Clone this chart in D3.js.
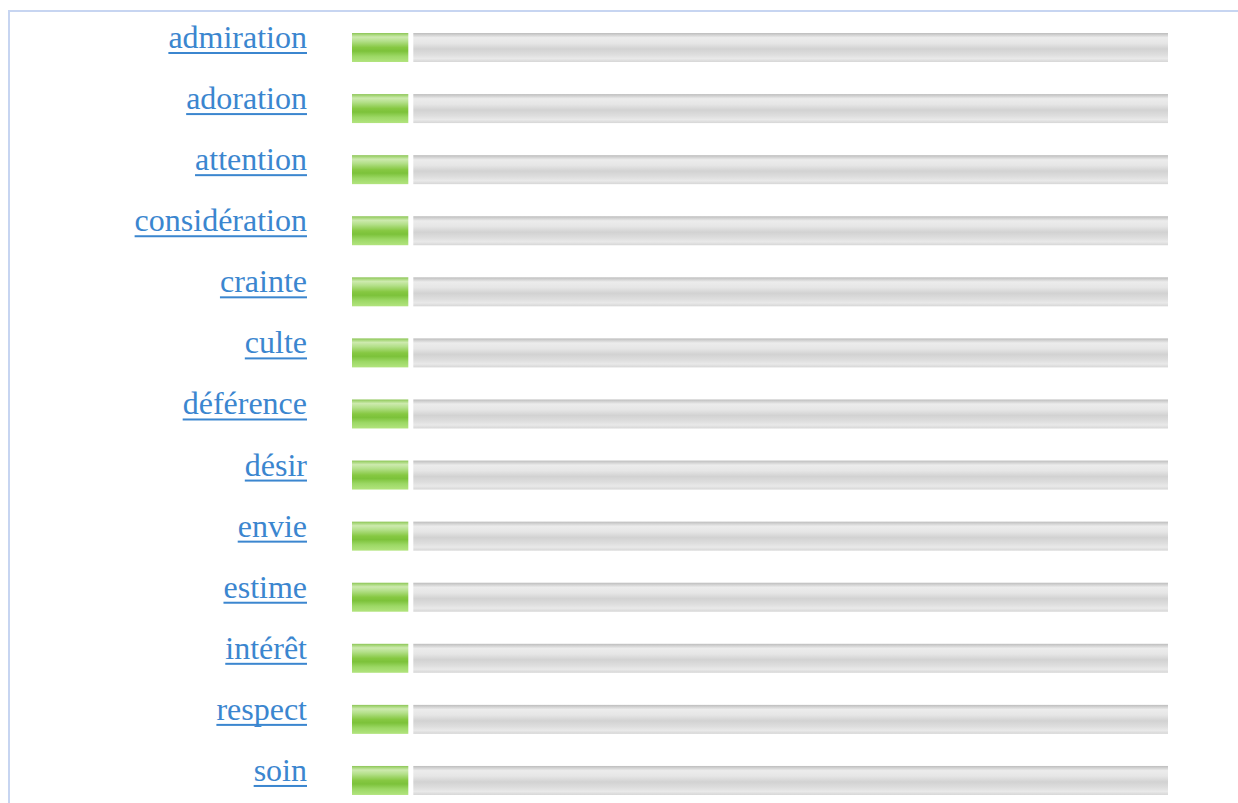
<!DOCTYPE html>
<html><head><meta charset="utf-8">
<script src="https://cdn.jsdelivr.net/npm/d3@7"></script>
<style>html,body{margin:0;padding:0;background:#fff;overflow:hidden}</style>
</head><body>
<script>
const categories = ["admiration","adoration","attention","considération","crainte","culte","déférence","désir","envie","estime","intérêt","respect","soin"];
const values = [6.9,6.9,6.9,6.9,6.9,6.9,6.9,6.9,6.9,6.9,6.9,6.9,6.9];
const maxValue = 100;

const W = 1238, H = 803;
const svg = d3.select("body").append("svg").attr("width", W).attr("height", H);
const defs = svg.append("defs");

function grad(id, stops){
  const g = defs.append("linearGradient").attr("id", id).attr("x1",0).attr("y1",0).attr("x2",0).attr("y2",1);
  stops.forEach(s => g.append("stop").attr("offset", s[0]).attr("stop-color", s[1]));
}
grad("gGreen", [[0,"#8cc456"],[0.06,"#a9d87c"],[0.14,"#cdeaae"],[0.28,"#b4e08a"],[0.5,"#86c842"],[0.62,"#7cc23a"],[0.8,"#9cd865"],[1,"#b2e47e"]]);
grad("gGrey", [[0,"#bdbdbd"],[0.06,"#cfcfcf"],[0.16,"#ececec"],[0.35,"#e6e6e6"],[0.55,"#d2d2d2"],[0.75,"#dedede"],[0.88,"#e9e9e9"],[1,"#d6d6d6"]]);

// frame
svg.append("rect").attr("x",8).attr("y",10).attr("width",W-8).attr("height",2).attr("fill","#c7d5f1");
svg.append("rect").attr("x",8).attr("y",10).attr("width",2).attr("height",H-10).attr("fill","#c7d5f1");

const x = d3.scaleLinear().domain([0, maxValue]).range([352, 1168]);
const y = d3.scaleBand().domain(categories).range([33, 33 + 12*61.08 + 29]).paddingInner(1 - 29/61.1).paddingOuter(0);

const rows = svg.selectAll("g.row").data(categories).join("g").attr("class","row");

rows.append("rect").attr("x", (d,i)=>x(values[i]) + 5).attr("y", d=>y(d))
  .attr("width", (d,i)=>x(maxValue) - x(values[i]) - 5).attr("height", y.bandwidth())
  .attr("fill","url(#gGrey)");
rows.append("rect").attr("x", x(0)).attr("y", d=>y(d))
  .attr("width", (d,i)=>x(values[i]) - x(0)).attr("height", y.bandwidth())
  .attr("fill","url(#gGreen)");

const labelX = 307;
rows.each(function(d){
  const g = d3.select(this);
  const t = g.append("text").attr("x", labelX).attr("y", y(d) + 15)
    .attr("text-anchor","end")
    .style("font-family","'Liberation Serif','Times New Roman',serif")
    .style("font-size","32px").attr("fill","#3b86cf").text(d);
  const len = t.node().getComputedTextLength();
  g.append("rect").attr("x", labelX - len).attr("y", y(d) + 19).attr("width", len).attr("height", 2).attr("fill","#3b86cf");
});
</script>
</body></html>
